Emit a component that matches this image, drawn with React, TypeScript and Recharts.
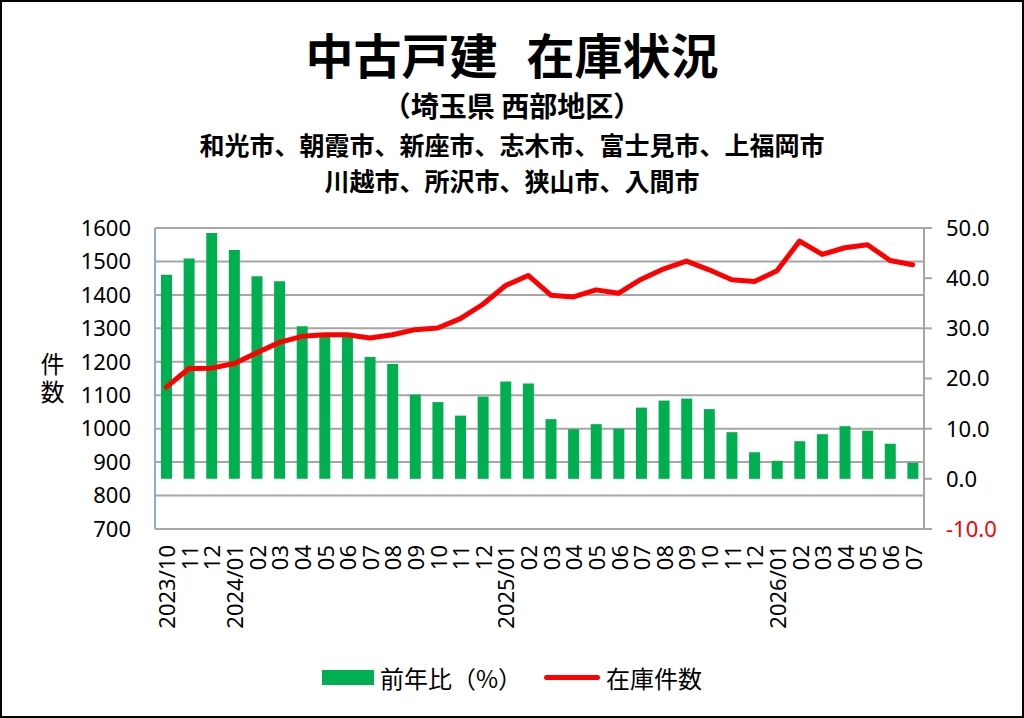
import { ComposedChart, Bar, Line, XAxis, YAxis, CartesianGrid } from 'recharts';

// 月ラベル（軸に表示するそのまま）
const monthLabels = [
  '2023/10', '11', '12',
  '2024/01', '02', '03', '04', '05', '06', '07', '08', '09', '10', '11', '12',
  '2025/01', '02', '03', '04', '05', '06', '07', '08', '09', '10', '11', '12',
  '2026/01', '02', '03', '04', '05', '06', '07',
];

// 前年比（%）
const yoyRate = [
  40.7, 43.9, 49.0, 45.6, 40.4, 39.4, 30.4, 28.6, 28.5, 24.3, 22.9, 16.8,
  15.3, 12.6, 16.4, 19.4, 19.0, 11.9, 9.9, 10.9, 10.0, 14.2, 15.6, 16.0,
  13.9, 9.3, 5.3, 3.6, 7.5, 8.9, 10.5, 9.6, 7.0, 3.2,
];

// 在庫件数
const stockCount = [
  1124, 1180, 1181, 1195, 1227, 1258, 1276, 1281, 1281, 1271, 1281, 1296,
  1301, 1329, 1372, 1428, 1458, 1399, 1394, 1415, 1405, 1447, 1478, 1501,
  1475, 1445, 1440, 1472, 1561, 1521, 1541, 1550, 1503, 1490,
];

const leftTicks = [700, 800, 900, 1000, 1100, 1200, 1300, 1400, 1500, 1600];
const rightTicks = [-10, 0, 10, 20, 30, 40, 50];

const data = monthLabels.map((label, i) => ({
  idx: i,
  label,
  yoy: yoyRate[i],
  stock: stockCount[i],
}));

const JP = '"Noto Sans CJK JP", "Noto Sans", sans-serif';
const NUM = '"Noto Sans", "Noto Sans CJK JP", sans-serif';

const MonthTick = (props: any) => {
  const { x, y, payload } = props;
  return (
    <text
      x={0}
      y={0}
      dy="0.36em"
      textAnchor="end"
      fontSize={22}
      fontFamily={NUM}
      fill="#000"
      transform={`translate(${x + 1},${y + 8}) rotate(-90)`}
    >
      {monthLabels[payload.value]}
    </text>
  );
};

const RightTick = (props: any) => {
  const { x, y, payload } = props;
  const v = payload.value as number;
  return (
    <text
      x={x}
      y={y}
      dy="0.36em"
      textAnchor="start"
      fontSize={22}
      fontFamily={NUM}
      fill={v < 0 ? '#ff0000' : '#000'}
    >
      {v.toFixed(1)}
    </text>
  );
};

export default function App() {
  return (
    <div
      style={{
        position: 'absolute',
        left: 0,
        top: 0,
        width: 1024,
        height: 718,
        boxSizing: 'border-box',
        border: '2px solid #000',
        background: '#fff',
        fontFamily: JP,
        color: '#000',
      }}
    >
      <div style={{ position: 'absolute', left: 0, top: 0, width: 1024, height: 718 }}>
        <ComposedChart
          width={1020}
          height={714}
          data={data}
          margin={{ top: 226, right: 8, bottom: 0, left: 73 }}
        >
          <CartesianGrid
            yAxisId="left"
            vertical={false}
            stroke="#a6a6a6"
            strokeWidth={2}
          />
          <XAxis
            dataKey="idx"
            type="category"
            interval={0}
            axisLine={false}
            tickLine={false}
            tick={<MonthTick />}
            height={187}
          />
          <YAxis
            yAxisId="left"
            orientation="left"
            domain={[700, 1600]}
            ticks={leftTicks}
            interval={0}
            width={80}
            axisLine={{ stroke: '#8eaadb', strokeWidth: 2 }}
            tickLine={false}
            tickSize={0}
            tickMargin={24}
            tick={{ fontSize: 22, fontFamily: NUM, fill: '#000' }}
          />
          <YAxis
            yAxisId="right"
            orientation="right"
            domain={[-10, 50]}
            ticks={rightTicks}
            interval={0}
            width={90}
            axisLine={{ stroke: '#a6a6a6', strokeWidth: 2 }}
            tickLine={{ stroke: '#a6a6a6', strokeWidth: 2 }}
            tickSize={8}
            tickMargin={14}
            tick={<RightTick />}
          />
          <Bar
            yAxisId="right"
            dataKey="yoy"
            name="前年比（%）"
            fill="#00b050"
            barSize={11}
            isAnimationActive={false}
          />
          <Line
            yAxisId="left"
            dataKey="stock"
            name="在庫件数"
            type="linear"
            stroke="#ff0000"
            strokeWidth={5}
            strokeLinejoin="round"
            strokeLinecap="round"
            dot={false}
            activeDot={false}
            isAnimationActive={false}
          />
        </ComposedChart>
      </div>

      {/* タイトル */}
      <div
        style={{
          position: 'absolute',
          top: 20,
          left: 0,
          width: 1020,
          textAlign: 'center',
          fontSize: 48,
          fontWeight: 700,
          lineHeight: '62px',
          whiteSpace: 'nowrap',
        }}
      >
        中古戸建<span style={{ marginLeft: '0.6em' }}>在庫状況</span>
      </div>
      <div
        style={{
          position: 'absolute',
          top: 84,
          left: 0,
          width: 1020,
          textAlign: 'center',
          fontSize: 28,
          fontWeight: 700,
          lineHeight: '38px',
          whiteSpace: 'nowrap',
        }}
      >
        （埼玉県 西部地区）
      </div>
      <div
        style={{
          position: 'absolute',
          top: 123,
          left: 0,
          width: 1020,
          textAlign: 'center',
          fontSize: 25,
          fontWeight: 700,
          lineHeight: '38px',
          whiteSpace: 'nowrap',
        }}
      >
        和光市、朝霞市、新座市、志木市、富士見市、上福岡市
      </div>
      <div
        style={{
          position: 'absolute',
          top: 159,
          left: 0,
          width: 1020,
          textAlign: 'center',
          fontSize: 25,
          fontWeight: 700,
          lineHeight: '38px',
          whiteSpace: 'nowrap',
        }}
      >
        川越市、所沢市、狭山市、入間市
      </div>

      {/* 縦軸ラベル */}
      <div
        style={{
          position: 'absolute',
          left: 37,
          top: 350,
          width: 26,
          fontSize: 24,
          lineHeight: '26px',
          letterSpacing: 4,
          writingMode: 'vertical-rl',
        }}
      >
        件数
      </div>

      {/* 凡例 */}
      <div
        style={{
          position: 'absolute',
          top: 658,
          left: 0,
          width: 1020,
          height: 34,
          display: 'flex',
          justifyContent: 'center',
          alignItems: 'center',
          fontSize: 24,
          whiteSpace: 'nowrap',
        }}
      >
        <span style={{ display: 'inline-block', width: 52, height: 15, background: '#00b050', marginRight: 6 }} />
        <span>前年比（%）</span>
        <span
          style={{
            display: 'inline-block',
            width: 56,
            height: 5,
            borderRadius: 3,
            background: '#ff0000',
            marginLeft: 22,
            marginRight: 6,
          }}
        />
        <span>在庫件数</span>
      </div>
    </div>
  );
}
